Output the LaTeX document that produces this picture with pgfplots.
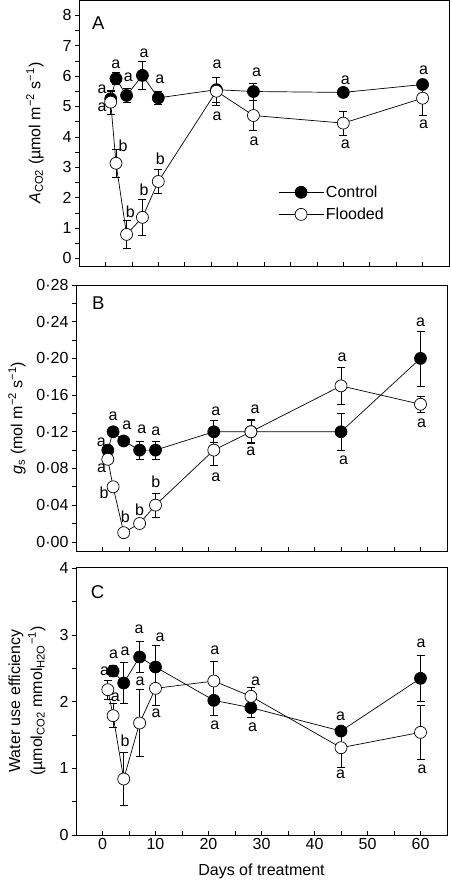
\documentclass[border=0pt]{standalone}
\usepackage{fontspec}
\setmainfont{Liberation Sans}
\usepackage{pgfplots}
\pgfplotsset{compat=1.18}
\newcommand{\tickfont}{\fontsize{16}{19}\selectfont}
\newcommand{\labfont}{\fontsize{16}{22}\selectfont}
\newcommand{\panfont}{\fontsize{18.5}{20}\selectfont}
\pgfplotsset{
  panel/.style={
    scale only axis, xmin=-5, xmax=65,
    xtick={0,10,20,30,40,50,60}, minor xtick={5,15,25,35,45,55},
    xtick align=inside, ytick align=outside, xtick pos=left, ytick pos=left,
    major tick length=4pt, minor tick length=4pt,
    every tick/.style={black, line width=0.6pt},
    axis line style={line width=0.7pt},
    tick label style={font=\tickfont},
    label style={font=\labfont},
    /pgf/number format/assume math mode=true,
    clip=false,
  },
  ctrl/.style={black, line width=0.7pt, mark=*, mark size=6pt,
    mark options={fill=black, draw=black, line width=0.7pt},
    error bars/y dir=both, error bars/y explicit,
    error bars/error bar style={line width=0.7pt, black},
    error bars/error mark options={rotate=90, mark size=4pt, line width=0.7pt, black}},
  flood/.style={black, line width=0.7pt, mark=*, mark size=6pt,
    mark options={fill=white, draw=black, line width=0.7pt},
    error bars/y dir=both, error bars/y explicit,
    error bars/error bar style={line width=0.7pt, black},
    error bars/error mark options={rotate=90, mark size=4pt, line width=0.7pt, black}},
}
\newcommand{\lt}[3]{\node[font=\tickfont, inner sep=0pt] at (axis cs:#1,#2) {#3};}
\begin{document}
\begin{tikzpicture}
\useasboundingbox (0pt,0pt) rectangle (451pt,-881pt);
% ---------------- Panel A
\begin{axis}[panel, at={(79pt,0pt)}, anchor=north west, width=370pt, height=266pt,
  ymin=-0.25, ymax=8.5, ytick={0,1,2,3,4,5,6,7,8},
  minor ytick={0.5,1.5,2.5,3.5,4.5,5.5,6.5,7.5},
  xticklabels={},
  ylabel={\textit{A}\textsubscript{CO2} (µmol m\textsuperscript{−2} s\textsuperscript{−1})},
  ylabel style={at={([xshift=-44pt]rel axis cs:0,0.5)}, anchor=center},
  legend style={at={(rel axis cs:0.538,0.31)}, anchor=north west, draw=none, fill=none,
    font=\labfont, row sep=5pt, inner sep=0pt, nodes={inner sep=2pt}},
  legend cell align=left,
  legend image code/.code={\draw[mark repeat=2,mark phase=2,#1] plot coordinates {(0pt,0pt) (22.5pt,0pt) (45pt,0pt)};},
]
\addplot[ctrl] table[x=d, y=v, y error=e] {
d v e
1 5.25 0.25
2 5.91 0.2
4 5.36 0.24
7 6.02 0.47
10 5.28 0.22
21 5.55 0.42
28 5.49 0.28
45 5.46 0.1
60 5.72 0.12
};
\addlegendentry{Control}
\addplot[flood] table[x=d, y=v, y error=e] {
d v e
1 5.14 0.4
2 3.13 0.45
4 0.79 0.45
7 1.35 0.6
10 2.53 0.4
21 5.5 0.45
28 4.70 0.5
45 4.45 0.4
60 5.27 0.55
};
\addlegendentry{Flooded}
\node[font=\panfont] at (rel axis cs:0.052,0.912) {A};
\lt{-0.64}{5.55}{a}
\lt{-0.64}{4.98}{a}
\lt{1.95}{6.37}{a}
\lt{4.33}{5.96}{a}
\lt{7.29}{6.76}{a}
\lt{10.3}{5.88}{a}
\lt{21.1}{6.37}{a}
\lt{21.1}{4.67}{a}
\lt{28.6}{6.12}{a}
\lt{28.1}{3.85}{a}
\lt{45.4}{5.85}{a}
\lt{45.4}{3.76}{a}
\lt{60.2}{6.18}{a}
\lt{60.2}{4.42}{a}
\lt{3.33}{3.71}{b}
\lt{4.71}{1.54}{b}
\lt{7.29}{2.25}{b}
\lt{10.4}{3.27}{b}
\end{axis}
% ---------------- Panel B
\begin{axis}[panel, at={(76pt,-285pt)}, anchor=north west, width=371pt, height=266pt,
  ymin=-0.01, ymax=0.28,
  ytick={0,0.04,0.08,0.12,0.16,0.20,0.24,0.28},
  yticklabels={0·00,0·04,0·08,0·12,0·16,0·20,0·24,0·28},
  minor ytick={0.02,0.06,0.10,0.14,0.18,0.22,0.26},
  xticklabels={},
  ylabel={\textit{g}\textsubscript{s} (mol m\textsuperscript{−2} s\textsuperscript{−1})},
  ylabel style={at={([xshift=-59pt]rel axis cs:0,0.5)}, anchor=center},
]
\addplot[ctrl] table[x=d, y=v, y error=e] {
d v e
1 0.10 0.005
2 0.12 0.005
4 0.11 0.004
7 0.10 0.01
10 0.10 0.01
21 0.12 0.012
28 0.12 0.012
45 0.12 0.02
60 0.20 0.03
};
\addplot[flood] table[x=d, y=v, y error=e] {
d v e
1 0.09 0.004
2 0.06 0.003
4 0.01 0.002
7 0.02 0.002
10 0.04 0.013
21 0.10 0.017
28 0.12 0.013
45 0.17 0.02
60 0.15 0.009
};
\node[font=\panfont] at (rel axis cs:0.060,0.931) {B};
\lt{-0.2}{0.108}{a}
\lt{2.0}{0.137}{a}
\lt{4.6}{0.127}{a}
\lt{7.4}{0.123}{a}
\lt{10.05}{0.121}{a}
\lt{21.4}{0.142}{a}
\lt{21.4}{0.0704}{a}
\lt{28.8}{0.145}{a}
\lt{28.0}{0.0988}{a}
\lt{45.2}{0.2016}{a}
\lt{45.5}{0.0886}{a}
\lt{60}{0.239}{a}
\lt{60.2}{0.129}{a}
\lt{-0.19}{0.0798}{a}
\lt{0.31}{0.0532}{b}
\lt{4.3}{0.027}{b}
\lt{7.0}{0.035}{b}
\lt{10.05}{0.066}{b}
\end{axis}
% ---------------- Panel C
\begin{axis}[panel, at={(76pt,-567pt)}, anchor=north west, width=371pt, height=268pt,
  ymin=0, ymax=4.02, ytick={0,1,2,3,4}, minor ytick={0.5,1.5,2.5,3.5},
  xlabel={Days of treatment},
  xlabel style={at={([yshift=-36.7pt]rel axis cs:0.5,0)}, anchor=center},
  ylabel={Water use efficiency\\(µmol\textsubscript{CO2} mmol\textsubscript{H2O}\textsuperscript{−1})},
  ylabel style={at={([xshift=-49pt]rel axis cs:0,0.5)}, anchor=center, align=center},
]
\addplot[ctrl] table[x=d, y=v, y error=e] {
d v e
2 2.46 0.08
4 2.28 0.31
7 2.67 0.23
10 2.52 0.32
21 2.02 0.22
28 1.91 0.14
45 1.56 0.05
60 2.35 0.35
};
\addplot[flood] table[x=d, y=v, y error=e] {
d v e
1 2.18 0.14
2 1.79 0.18
4 0.84 0.4
7 1.68 0.5
10 2.20 0.26
21 2.31 0.29
28 2.08 0.13
45 1.31 0.3
60 1.54 0.4
};
\node[font=\panfont] at (rel axis cs:0.058,0.908) {C};
\lt{0.38}{2.45}{a}
\lt{2.07}{2.71}{a}
\lt{4.27}{2.75}{a}
\lt{6.91}{3.08}{a}
\lt{10.87}{2.96}{a}
\lt{7.1}{2.31}{a}
\lt{10.1}{1.83}{a}
\lt{2.4}{2.06}{a}
\lt{4.27}{1.42}{b}
\lt{21.2}{2.77}{a}
\lt{21.2}{1.65}{a}
\lt{28.9}{2.31}{a}
\lt{28.3}{1.61}{a}
\lt{44.9}{1.78}{a}
\lt{44.9}{0.91}{a}
\lt{60.1}{2.87}{a}
\lt{60.3}{0.98}{a}
\end{axis}
\end{tikzpicture}
\end{document}
